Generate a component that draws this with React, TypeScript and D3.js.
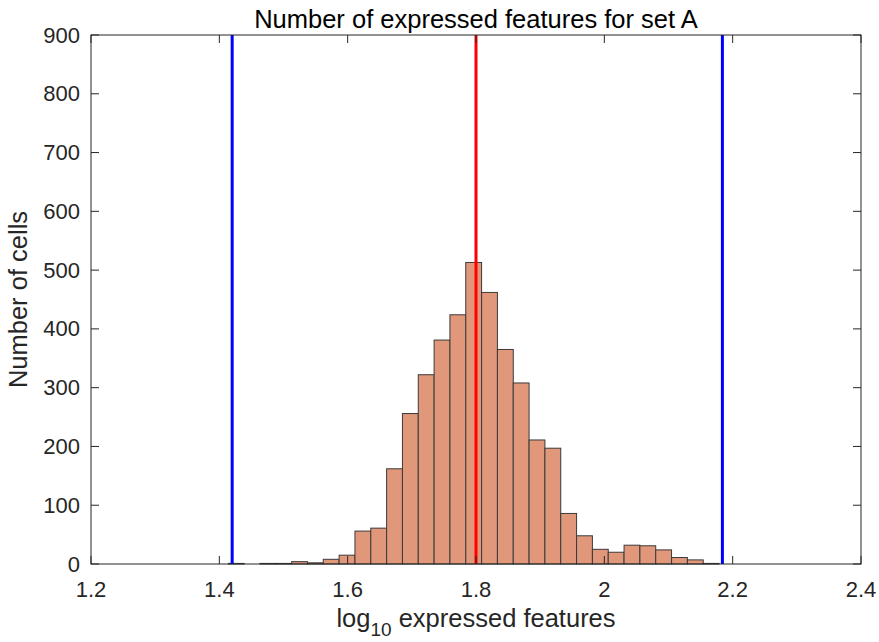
import * as d3 from "d3";

// histogram of log10 expressed features (counts per bin)
const BIN_START = 1.414;
const BIN_WIDTH = 0.02467;
const counts = [
  1, 0, 1, 1, 4, 2, 8, 15, 56, 61, 162, 256, 322, 381, 424, 513, 462, 365, 308,
  211, 197, 86, 48, 25, 20, 32, 31, 24, 11, 7, 1,
];
const xTicks = [1.2, 1.4, 1.6, 1.8, 2, 2.2, 2.4];
const yTicks = [0, 100, 200, 300, 400, 500, 600, 700, 800, 900];
const medianLine = 1.8;
const thresholdLines = [1.42, 2.184];

const WIDTH = 879;
const HEIGHT = 642;
const MARGIN = { left: 91, top: 35, right: 18, bottom: 78 };
const FONT = "'Liberation Sans', Arial, Helvetica, sans-serif";
const AXIS_COLOR = "#262626";
const TICK_LEN = 8;

const App = () => {
  const innerW = WIDTH - MARGIN.left - MARGIN.right;
  const innerH = HEIGHT - MARGIN.top - MARGIN.bottom;

  const x = d3.scaleLinear().domain([1.2, 2.4]).range([0, innerW]);
  const y = d3.scaleLinear().domain([0, 900]).range([innerH, 0]);

  const bins = counts.map((c, i) => ({
    x0: BIN_START + i * BIN_WIDTH,
    x1: BIN_START + (i + 1) * BIN_WIDTH,
    count: c,
  }));

  return (
    <svg
      width={WIDTH}
      height={HEIGHT}
      style={{ position: "absolute", left: 0, top: 0, background: "#fff" }}
      fontFamily={FONT}
    >
      <rect width={WIDTH} height={HEIGHT} fill="#fff" />
      <g transform={`translate(${MARGIN.left},${MARGIN.top})`}>
        {bins.map((b, i) => (
          <rect
            key={i}
            x={x(b.x0)}
            y={y(b.count)}
            width={x(b.x1) - x(b.x0)}
            height={innerH - y(b.count)}
            fill="#E0977A"
            stroke="#3a3a3a"
            strokeWidth={1}
          />
        ))}

        <line
          x1={x(medianLine)}
          x2={x(medianLine)}
          y1={0}
          y2={innerH}
          stroke="#FF0000"
          strokeWidth={3}
        />
        {thresholdLines.map((v, i) => (
          <line
            key={i}
            x1={x(v)}
            x2={x(v)}
            y1={0}
            y2={innerH}
            stroke="#0000FF"
            strokeWidth={3}
          />
        ))}

        {/* box */}
        <rect
          x={0}
          y={0}
          width={innerW}
          height={innerH}
          fill="none"
          stroke={AXIS_COLOR}
          strokeWidth={1}
        />

        {/* x ticks, mirrored on top */}
        {xTicks.map((t) => (
          <g key={t}>
            <line x1={x(t)} x2={x(t)} y1={innerH} y2={innerH - TICK_LEN} stroke={AXIS_COLOR} />
            <line x1={x(t)} x2={x(t)} y1={0} y2={TICK_LEN} stroke={AXIS_COLOR} />
            <text
              x={x(t)}
              y={innerH + 33}
              textAnchor="middle"
              fontSize={22}
              fill={AXIS_COLOR}
            >
              {d3.format("")(t)}
            </text>
          </g>
        ))}

        {/* y ticks, mirrored on right */}
        {yTicks.map((t) => (
          <g key={t}>
            <line x1={0} x2={TICK_LEN} y1={y(t)} y2={y(t)} stroke={AXIS_COLOR} />
            <line x1={innerW} x2={innerW - TICK_LEN} y1={y(t)} y2={y(t)} stroke={AXIS_COLOR} />
            <text
              x={-11}
              y={y(t)}
              textAnchor="end"
              dominantBaseline="central"
              fontSize={22}
              fill={AXIS_COLOR}
            >
              {t}
            </text>
          </g>
        ))}
      </g>

      <text
        x={MARGIN.left + innerW / 2}
        y={28}
        textAnchor="middle"
        fontSize={25.5}
        fill="#000"
      >
        Number of expressed features for set A
      </text>

      <text
        x={MARGIN.left + innerW / 2}
        y={627}
        textAnchor="middle"
        fontSize={25.5}
        fill={AXIS_COLOR}
      >
        log
        <tspan fontSize={19} dy={9}>10</tspan>
        <tspan dy={-9}> expressed features</tspan>
      </text>

      <text
        transform={`translate(27,${MARGIN.top + innerH / 2}) rotate(-90)`}
        textAnchor="middle"
        fontSize={25.5}
        fill={AXIS_COLOR}
      >
        Number of cells
      </text>
    </svg>
  );
};

export default App;
